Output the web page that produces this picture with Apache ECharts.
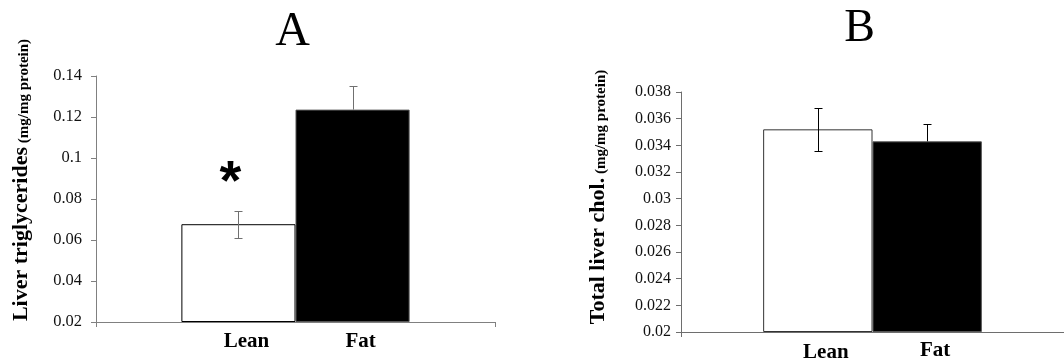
<!DOCTYPE html>
<html><head><meta charset="utf-8">
<script src="https://cdn.jsdelivr.net/npm/echarts@6/dist/echarts.min.js"></script>
<style>html,body{margin:0;padding:0;background:#fff}#c{width:1064px;height:359px}</style>
</head><body><div id="c"></div>
<script>
// ---- data ----
const groups = ['Lean', 'Fat'];
const panelTitles = ['A', 'B'];
const yNames = ['Liver triglycerides', 'Total liver chol.'];
const yUnit = '(mg/mg protein)';
const meansA = [0.0677, 0.1236];
const errA = [0.0066, 0.0117];
const sigA = ['*', ''];
const meansB = [0.0352, 0.0343];
const errB = [0.0016, 0.0013];
const sigB = ['', ''];
const errBoth = [1, 0]; // draw lower whisker (1) or upper only (0)
const yRangeA = [0.02, 0.14, 0.02];
const yRangeB = [0.02, 0.038, 0.002];

// ---- styles ----
const SERIF = '"Liberation Serif", "Times New Roman", serif';
const panels = [
  {means: meansA, err: errA, sig: sigA, range: yRangeA, gap: 42.8, axisColor: '#808080', errColor: '#707070', leanBorder: '#000',
   grid: {left: 96, top: 76, width: 399, height: 246}, nameGap: 64, namePad: 38, labelMargin: 14, titleXY: [292.5, 32], titleSize: 48,
   labelDist: [9, 9], tickFont: 16.5},
  {means: meansB, err: errB, sig: sigB, range: yRangeB, gap: 42.9, axisColor: '#6e6e6e', errColor: '#000', leanBorder: '#333',
   grid: {left: 681, top: 92, width: 388, height: 240}, nameGap: 72, namePad: 30, labelMargin: 10, titleXY: [859.5, 29], titleSize: 46,
   labelDist: [10, 8], tickFont: 16}
];

function errRender(p) {
  return function (params, api) {
    const k = api.value(3);
    const mean = api.value(1), e = api.value(2);
    const band = api.size([1, 0])[0];
    const barW = band * (1 - p.gap / 100) / 2;
    const base = api.coord([api.value(0), mean]);
    const cx = Math.round(base[0] + (k - 0.5) * barW) + 0.5;
    const yM = base[1];
    const yT = Math.round(api.coord([api.value(0), mean + e])[1]) + 0.5;
    const yB = Math.round(api.coord([api.value(0), mean - e])[1]) + 0.5;
    const both = api.value(4) === 1;
    const st = {stroke: p.errColor, lineWidth: 1};
    const ch = [
      {type: 'line', shape: {x1: cx, y1: yT, x2: cx, y2: both ? yB : yM}, style: st},
      {type: 'line', shape: {x1: cx - 4, y1: yT, x2: cx + 4, y2: yT}, style: st}
    ];
    if (both) ch.push({type: 'line', shape: {x1: cx - 4, y1: yB, x2: cx + 4, y2: yB}, style: st});
    const s = p.sig[params.dataIndex];
    if (s) ch.push({type: 'text', x: cx - 8, y: yT - 28,
      style: {text: s, fill: '#000', font: 'bold 56px "Liberation Sans"', align: 'center', verticalAlign: 'middle'}});
    return {type: 'group', children: ch};
  };
}

const grid = [], xAxis = [], yAxis = [], series = [], graphic = [];
panels.forEach((p, i) => {
  grid.push(p.grid);
  xAxis.push({type: 'category', gridIndex: i, data: [''],
    axisLine: {show: true, lineStyle: {color: p.axisColor, width: 1}},
    axisTick: {show: true, length: 5, lineStyle: {color: p.axisColor}},
    axisLabel: {show: false}, splitLine: {show: false}});
  yAxis.push({type: 'value', gridIndex: i, min: p.range[0], max: p.range[1], interval: p.range[2], startValue: p.range[0],
    axisLine: {show: true, lineStyle: {color: p.axisColor, width: 1}},
    axisTick: {show: true, length: 5, lineStyle: {color: p.axisColor}},
    splitLine: {show: false},
    axisLabel: {margin: p.labelMargin, fontFamily: SERIF, fontSize: p.tickFont, color: '#111',
      formatter: v => String(+v.toFixed(4))},
    name: '{a|' + yNames[i] + '} {b|' + yUnit + '}',
    nameLocation: 'middle', nameRotate: 90, nameGap: p.nameGap,
    nameTextStyle: {fontFamily: SERIF, fontWeight: 'bold', fontSize: 15, color: '#000', padding: [0, 0, 0, p.namePad],
      rich: {
        a: {fontFamily: SERIF, fontWeight: 'bold', fontSize: 22, color: '#000', verticalAlign: 'bottom'},
        b: {fontFamily: SERIF, fontWeight: 'bold', fontSize: 15, color: '#000', verticalAlign: 'bottom'}
      }}
  });
  groups.forEach((g, k) => {
    series.push({type: 'bar', name: g, xAxisIndex: i, yAxisIndex: i, data: [p.means[k]],
      barGap: '0%', barCategoryGap: p.gap + '%',
      itemStyle: k === 0 ? {color: '#fff', borderColor: p.leanBorder, borderWidth: 1} : {color: '#000', borderColor: '#555', borderWidth: 1},
      label: {show: true, position: 'bottom', distance: p.labelDist[k], offset: [8, 0], formatter: '{a}',
        fontFamily: SERIF, fontWeight: 'bold', fontSize: 21, color: '#000'},
      emphasis: {disabled: true}, silent: true, animation: false, z: 2});
  });
  series.push({type: 'custom', xAxisIndex: i, yAxisIndex: i, z: 5, animation: false, silent: true,
    data: groups.map((g, k) => [0, p.means[k], p.err[k], k, errBoth[k]]),
    renderItem: errRender(p)});
  graphic.push({type: 'text', x: p.titleXY[0], y: p.titleXY[1], silent: true,
    style: {text: panelTitles[i], font: p.titleSize + 'px ' + SERIF, fill: '#000', align: 'center', verticalAlign: 'middle'}});
});

const chart = echarts.init(document.getElementById('c'), null, {renderer: 'canvas'});
chart.setOption({animation: false, backgroundColor: '#fff', grid, xAxis, yAxis, series, graphic, tooltip: {show: false}});
</script>
</body></html>
